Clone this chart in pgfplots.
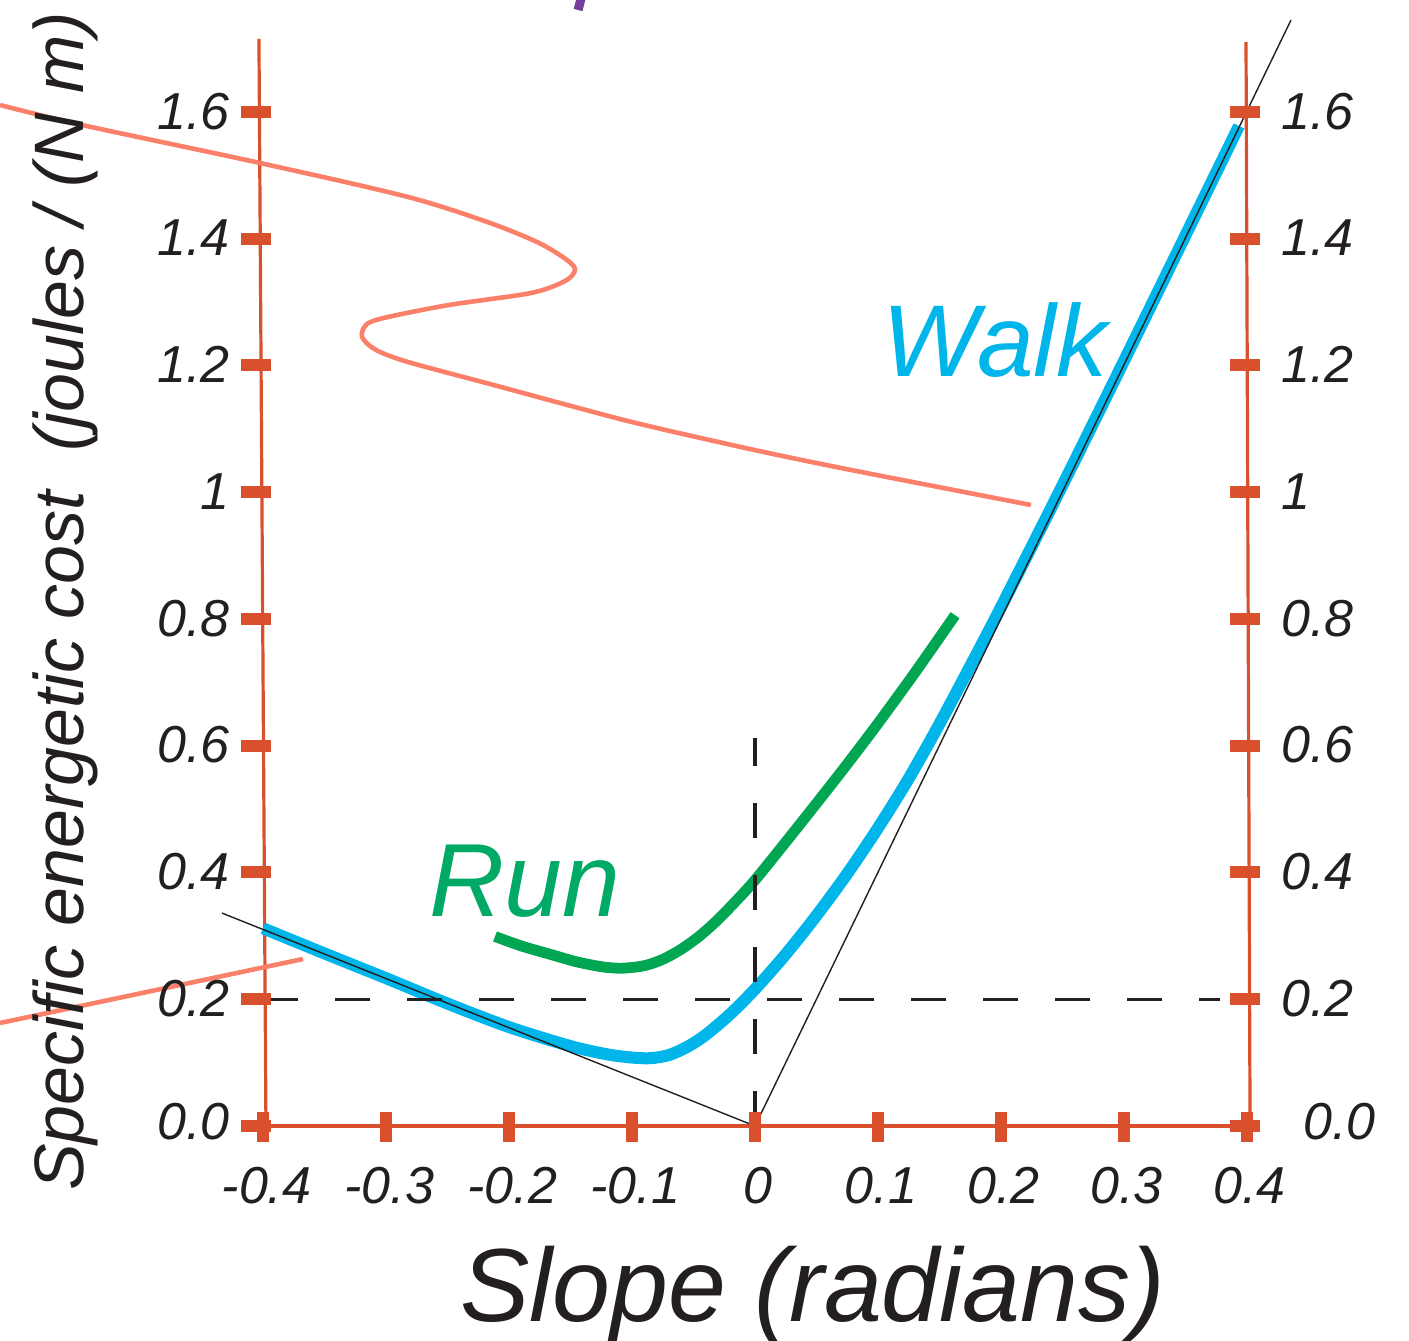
\documentclass[border=0pt]{standalone}
\usepackage{fontspec}
\setmainfont{Liberation Sans}
\usepackage{pgfplots}
\pgfplotsset{compat=1.18}

\definecolor{axisorange}{RGB}{217,81,44}
\definecolor{salmon}{RGB}{250,128,105}
\definecolor{walkblue}{RGB}{0,181,234}
\definecolor{runline}{RGB}{0,166,81}
\definecolor{runtext}{RGB}{0,170,102}
\definecolor{inkblack}{RGB}{35,31,32}
\definecolor{titlepurple}{RGB}{118,62,155}

\begin{document}
\begin{tikzpicture}
\begin{axis}[
  name=ax,
  scale only axis, width=704.5pt, height=670pt,
  xmin=-0.61444, xmax=0.53225, ymin=-0.33767, ymax=1.77673,
  axis lines=none,
  clip=true,
]
% ---- frame: left, right and bottom lines ----
\addplot[axisorange, line width=1.6pt] coordinates {(-0.3980,0)(-0.4037,1.7152)};
\addplot[axisorange, line width=1.6pt] coordinates {(0.4029,0)(0.3996,1.7104)};
\addplot[axisorange, line width=1.6pt] coordinates {(-0.3980,0)(0.4029,0)};
% tick bars
\addplot[only marks, mark=-, mark size=7.5pt, mark options={line width=6pt, draw=axisorange}]
  coordinates {(-0.4057,0)(-0.4057,0.2)(-0.4057,0.4)(-0.4057,0.6)(-0.4057,0.8)
               (-0.4057,1.0)(-0.4057,1.2)(-0.4057,1.4)(-0.4057,1.6)};
\addplot[only marks, mark=-, mark size=7.5pt, mark options={line width=6pt, draw=axisorange}]
  coordinates {(0.3988,0)(0.3988,0.2)(0.3988,0.4)(0.3988,0.6)(0.3988,0.8)
               (0.3988,1.0)(0.3988,1.2)(0.3988,1.4)(0.3988,1.6)};
\addplot[only marks, mark=|, mark size=7.5pt, mark options={line width=6pt, draw=axisorange}]
  coordinates {(-0.4,-0.0016)(-0.3,-0.0016)(-0.2,-0.0016)(-0.1,-0.0016)(0,-0.0016)
               (0.1,-0.0016)(0.2,-0.0016)(0.3,-0.0016)(0.4,-0.0016)};

% ---- stray strokes from the neighbouring panel ----
\addplot[salmon, line width=2.3pt, smooth] coordinates {
  (-0.6144,1.6110)(-0.5477,1.5795)(-0.4028,1.5195)(-0.2824,1.4659)(-0.2157,1.4249)
  (-0.1758,1.3933)(-0.1530,1.3665)(-0.1465,1.3507)(-0.1546,1.3333)(-0.1823,1.3144)
  (-0.2490,1.2955)(-0.2987,1.2765)(-0.3158,1.2655)(-0.3198,1.2450)(-0.3084,1.2245)
  (-0.2824,1.2055)(-0.2157,1.1708)(-0.1497,1.1361)(-0.0936,1.1077)(-0.0041,1.0682)
  (0.0741,1.0367)(0.2246,0.9799)
};
\addplot[salmon, line width=2.3pt] coordinates {(-0.6144,0.1625)(-0.3679,0.2635)};
\addplot[titlepurple, line width=4.5pt] coordinates {(-0.1408,1.7846)(-0.1440,1.7609)};

% ---- Walk ----
\addplot[walkblue, line width=6pt, smooth] coordinates {
  (-0.4004,0.312)(-0.35,0.272)(-0.30,0.233)(-0.25,0.193)(-0.20,0.156)
  (-0.15,0.126)(-0.12,0.113)(-0.10,0.108)(-0.085,0.107)(-0.07,0.112)
  (-0.055,0.125)(-0.04,0.144)(-0.02,0.177)(0.0,0.216)(0.025,0.271)
  (0.05,0.332)(0.075,0.398)(0.10,0.470)(0.125,0.548)(0.15,0.634)
  (0.175,0.725)(0.20,0.818)(0.25,1.010)(0.30,1.206)(0.35,1.404)(0.3939,1.578)
};
% ---- Run ----
\addplot[runline, line width=5.4pt, smooth] coordinates {
  (-0.2116,0.299)(-0.19,0.284)(-0.1668,0.271)(-0.145,0.259)(-0.1237,0.251)
  (-0.108,0.249)(-0.09,0.253)(-0.075,0.263)(-0.06,0.279)(-0.045,0.300)
  (-0.03,0.326)(-0.015,0.356)(0.0,0.388)(0.025,0.448)(0.05,0.509)
  (0.075,0.571)(0.10,0.635)(0.13,0.715)(0.1628,0.806)
};
% tangents through the origin
\addplot[inkblack, line width=0.7pt] coordinates {(-0.4338,0.336)(0,0)(0.4362,1.745)};
% reference dashes
\addplot[inkblack, line width=1.6pt, dash pattern=on 17.5pt off 18.5pt]
  coordinates {(-0.4005,0.2)(0.3784,0.2)};
\addplot[inkblack, line width=1.6pt, dash pattern=on 17.5pt off 18.5pt]
  coordinates {(0,0)(0,0.612)};

% ---- tick labels ----
\foreach \v/\t in {0.2/0.2,0.4/0.4,0.6/0.6,0.8/0.8,1.0/1,1.2/1.2,1.4/1.4,1.6/1.6}{
  \edef\temp{\noexpand\node[anchor=base east, inner sep=0pt, text=inkblack,
    font=\noexpand\fontsize{26}{30}\noexpand\selectfont\noexpand\itshape]
    at (axis cs:-0.4272,\v-0.027) {\t};
  \noexpand\node[anchor=base west, inner sep=0pt, text=inkblack,
    font=\noexpand\fontsize{26}{30}\noexpand\selectfont\noexpand\itshape]
    at (axis cs:0.4281,\v-0.027) {\t};}
  \temp
}
\node[anchor=base east, inner sep=0pt, text=inkblack, font=\fontsize{26}{30}\selectfont\itshape]
  at (axis cs:-0.4272,-0.021) {0.0};
\node[anchor=base west, inner sep=0pt, text=inkblack, font=\fontsize{26}{30}\selectfont\itshape]
  at (axis cs:0.4460,-0.022) {0.0};
\foreach \v/\t in {-0.4/-0.4,-0.3/-0.3,-0.2/-0.2,-0.1/-0.1,0/0,0.1/0.1,0.2/0.2,0.3/0.3,0.4/0.4}{
  \edef\temp{\noexpand\node[anchor=base, inner sep=0pt, text=inkblack, xshift=1.5pt,
    font=\noexpand\fontsize{26}{30}\noexpand\selectfont\noexpand\itshape]
    at (axis cs:\v,-0.1215) {\t};}
  \temp
}

% ---- axis titles ----
\node[anchor=base, inner sep=0pt, text=inkblack, font=\fontsize{52}{60}\selectfont\itshape]
  at (axis cs:0.0470,-0.3077) {Slope (radians)};
\node[anchor=base, rotate=90, inner sep=0pt, text=inkblack, font=\fontsize{35}{40}\selectfont\itshape]
  at (axis cs:-0.5461,0.8276) {Specific energetic cost~~(joules / (N m)};

% ---- curve labels ----
\node[anchor=base west, inner sep=0pt, text=walkblue, font=\fontsize{51}{58}\selectfont\itshape]
  at (axis cs:0.1035,1.1834) {Walk};
\node[anchor=base west, inner sep=0pt, text=runtext, font=\fontsize{52}{60}\selectfont\itshape]
  at (axis cs:-0.2650,0.3298) {Run};
\end{axis}
\pgfresetboundingbox
\path[use as bounding box] (ax.south west) rectangle (ax.north east);
\end{tikzpicture}
\end{document}
